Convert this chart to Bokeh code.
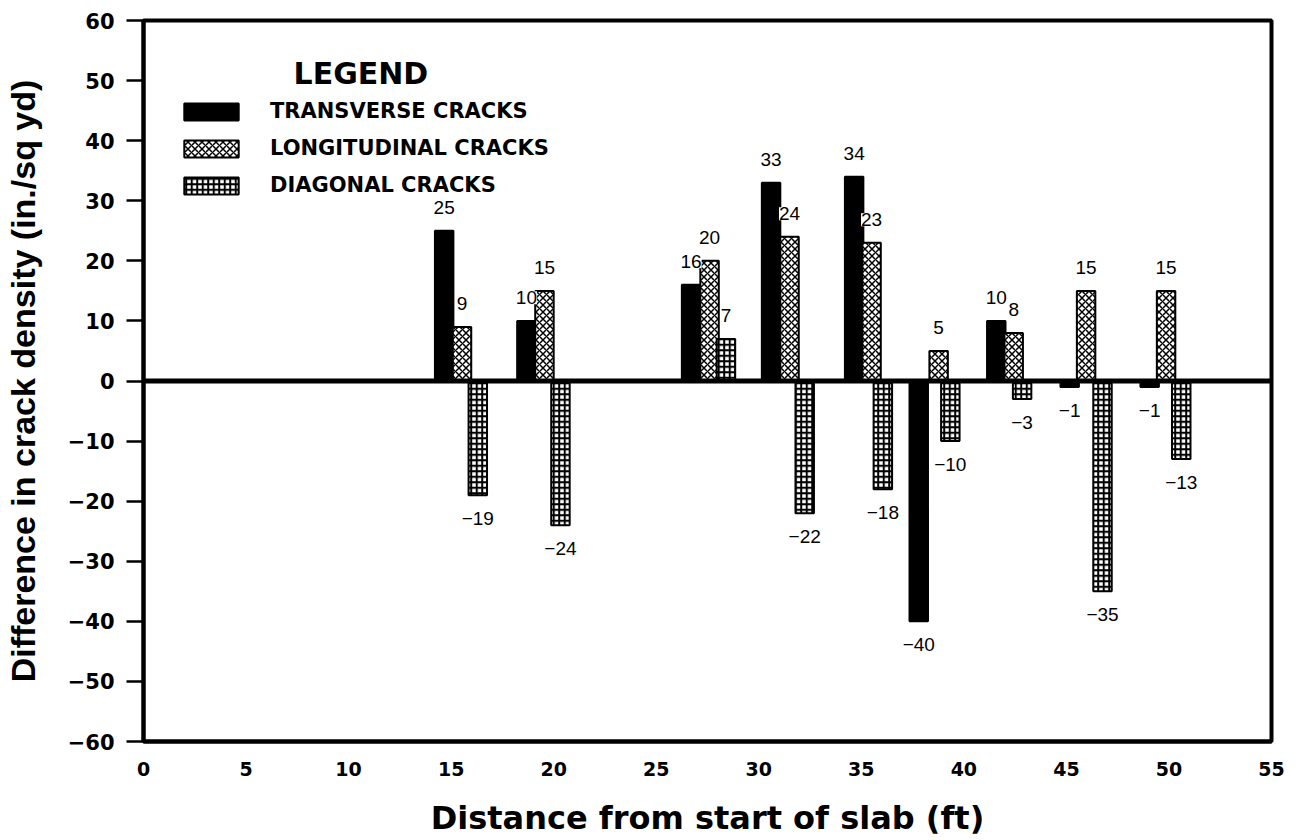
from bokeh.plotting import figure
from bokeh.models import (ColumnDataSource, LabelSet, Label, Span, Legend,
                          LegendItem, FixedTicker, Range1d)
from bokeh.core.properties import value
from bokeh.embed import file_html
from bokeh.resources import INLINE

# ---- data ----
series_names = ["TRANSVERSE CRACKS", "LONGITUDINAL CRACKS", "DIAGONAL CRACKS"]
transverse_x = [14.66, 18.67, 26.7, 30.6, 34.65, 37.8, 41.58, 45.16, 49.06]
longitudinal_x = [15.53, 19.55, 27.6, 31.5, 35.5, 38.77, 42.43, 45.96, 49.86]
diagonal_x = [16.3, 20.33, 28.4, 32.24, 36.05, 39.34, 42.84, 46.76, 50.6]
transverse = [25, 10, 16, 33, 34, -40, 10, -1, -1]
longitudinal = [9, 15, 20, 24, 23, 5, 8, 15, 15]
diagonal = [-19, -24, 7, -22, -18, -10, -3, -35, -13]
x_ticks = [0, 5, 10, 15, 20, 25, 30, 35, 40, 45, 50, 55]
y_ticks = [-60, -50, -40, -30, -20, -10, 0, 10, 20, 30, 40, 50, 60]

BAR_W = 0.9
LABEL_OFF = 3.85

p = figure(width=1297, height=840, x_range=Range1d(0, 55), y_range=Range1d(-60, 60),
           output_backend="svg", toolbar_location=None,
           min_border_left=143, min_border_right=26, min_border_top=20, min_border_bottom=99)
p.grid.visible = False
p.outline_line_color = "black"
p.outline_line_width = 4
p.background_fill_color = "white"
p.border_fill_color = "white"

# axes
p.xaxis.ticker = FixedTicker(ticks=x_ticks)
p.yaxis.ticker = FixedTicker(ticks=y_ticks)
for ax in (p.xaxis[0], p.yaxis[0]):
    ax.axis_line_color = "black"
    ax.axis_line_width = 4
    ax.minor_tick_line_color = None
    ax.major_label_text_font = "DejaVu Sans"
    ax.major_label_text_font_style = "bold"
    ax.major_label_text_color = "black"
    ax.axis_label_text_font_style = "bold"
    ax.axis_label_text_color = "black"

p.xaxis.major_label_text_font_size = "19px"
p.xaxis.major_tick_out = 0
p.xaxis.major_tick_in = 0
p.xaxis.major_label_standoff = 20
p.xaxis.axis_label = "Distance from start of slab (ft)"
p.xaxis.axis_label_text_font = "DejaVu Sans"
p.xaxis.axis_label_text_font_size = "32px"
p.xaxis.axis_label_standoff = 20

p.yaxis.major_label_text_font_size = "21px"
p.yaxis.major_tick_out = 17
p.yaxis.major_tick_in = 0
p.yaxis.major_tick_line_width = 2.5
p.yaxis.major_label_standoff = 12
p.yaxis.axis_label = "Difference in crack density (in./sq yd)"
p.yaxis.axis_label_text_font = "Liberation Sans"
p.yaxis.axis_label_text_font_size = "34px"
p.yaxis.axis_label_standoff = 23

# bars
src_t = ColumnDataSource(dict(x=transverse_x, top=transverse))
src_l = ColumnDataSource(dict(x=longitudinal_x, top=longitudinal))
src_d = ColumnDataSource(dict(x=diagonal_x, top=diagonal))

r_t = p.vbar(x="x", top="top", bottom=0, width=BAR_W, source=src_t,
             fill_color="black", line_color="black", line_width=2)
r_l = p.vbar(x="x", top="top", bottom=0, width=BAR_W, source=src_l,
             fill_color="white", line_color="black", line_width=2,
             hatch_pattern="x", hatch_color="black", hatch_scale=7, hatch_weight=1.5)
r_d = p.vbar(x="x", top="top", bottom=0, width=BAR_W, source=src_d,
             fill_color="white", line_color="black", line_width=2,
             hatch_pattern="+", hatch_color="black", hatch_scale=5.5, hatch_weight=2)

p.add_layout(Span(location=0, dimension="width", line_color="black", line_width=5))

# value labels
lx, ly, lt = [], [], []
for xs, vals in ((transverse_x, transverse), (longitudinal_x, longitudinal), (diagonal_x, diagonal)):
    for xv, v in zip(xs, vals):
        lx.append(xv)
        ly.append(v + LABEL_OFF if v >= 0 else v - LABEL_OFF)
        lt.append(str(v).replace("-", "\u2212"))
lab_src = ColumnDataSource(dict(x=lx, y=ly, text=lt))
p.add_layout(LabelSet(x="x", y="y", text="text", source=lab_src,
                      text_align="center", text_baseline="middle",
                      text_font=value("Liberation Sans"), text_font_size="19px",
                      text_color="black", background_fill_color="white"))

# legend
legend = Legend(items=[LegendItem(label=series_names[0], renderers=[r_t]),
                       LegendItem(label=series_names[1], renderers=[r_l]),
                       LegendItem(label=series_names[2], renderers=[r_d])],
                location=(34, 544), orientation="vertical",
                glyph_width=68, glyph_height=21, label_height=21,
                label_standoff=25, spacing=13, padding=0, margin=0,
                border_line_color=None, background_fill_alpha=0,
                label_text_font="DejaVu Sans", label_text_font_style="bold",
                label_text_font_size="21px", label_text_color="black")
p.add_layout(legend)

p.add_layout(Label(x=10.6, y=51.2, text="LEGEND", text_align="center", text_baseline="middle",
                   text_font="DejaVu Sans", text_font_style="bold", text_font_size="30px",
                   text_color="black"))

open("out.html", "w").write(file_html(p, INLINE))
